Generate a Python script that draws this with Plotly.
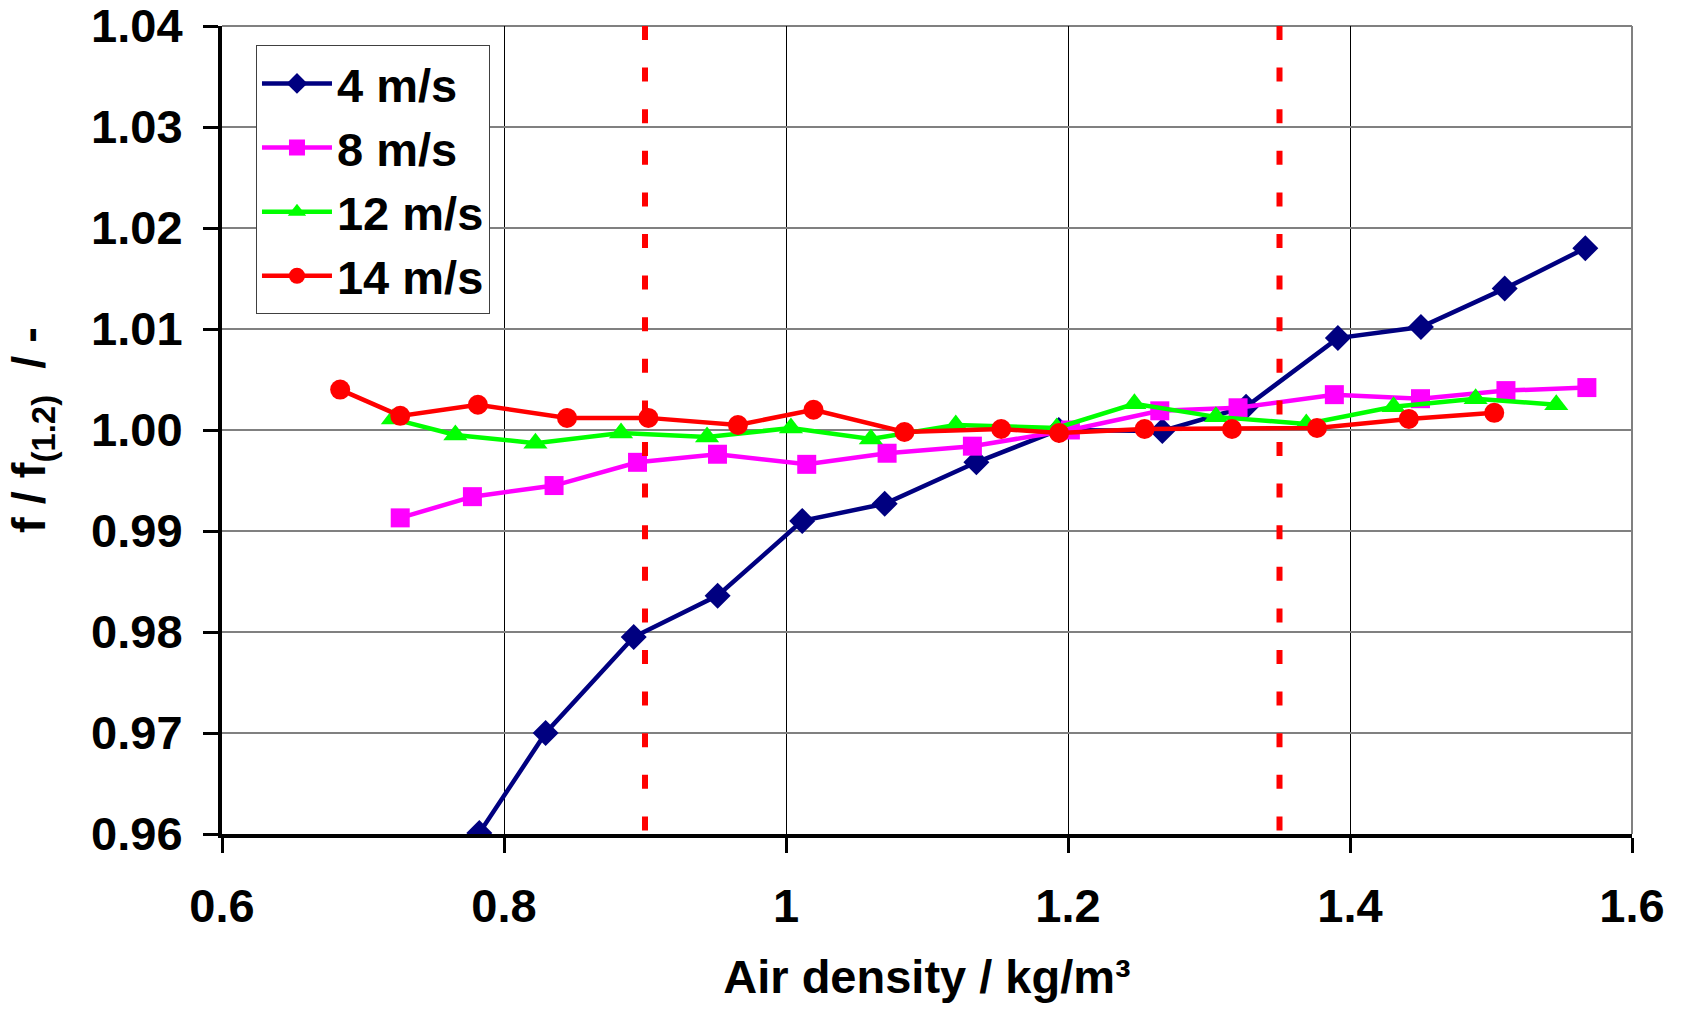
import plotly.graph_objects as go

# ---- data ----
x_4 = [0.7825, 0.8295, 0.892, 0.9515, 1.0115, 1.070, 1.1350, 1.1935, 1.2669, 1.3263, 1.3914, 1.4503, 1.5097, 1.5669]
y_4 = [0.9601, 0.9700, 0.9795, 0.9836, 0.9910, 0.9927, 0.9968, 1.0000, 0.9999, 1.0023, 1.0091, 1.0102, 1.0140, 1.0180]

x_8 = [0.7264, 0.7776, 0.8355, 0.8947, 0.9514, 1.0147, 1.0717, 1.1322, 1.2017, 1.2651, 1.3206, 1.3889, 1.4500, 1.5106, 1.5680]
y_8 = [0.9913, 0.9934, 0.9945, 0.9968, 0.9976, 0.9966, 0.9977, 0.9984, 1.0000, 1.0019, 1.0022, 1.0035, 1.0031, 1.0039, 1.0042]

x_12 = [0.7212, 0.7655, 0.8223, 0.8830, 0.9440, 1.0035, 1.0602, 1.1204, 1.1920, 1.2471, 1.3049, 1.3690, 1.4309, 1.4891, 1.5463]
y_12 = [1.0011, 0.9995, 0.9987, 0.9997, 0.9993, 1.0002, 0.9991, 1.0005, 1.0002, 1.0026, 1.0013, 1.0006, 1.0023, 1.0031, 1.0025]

x_14 = [0.6838, 0.7264, 0.7815, 0.8447, 0.9024, 0.9659, 1.0195, 1.0840, 1.1526, 1.1937, 1.2543, 1.3163, 1.3766, 1.4417, 1.5023]
y_14 = [1.0040, 1.0014, 1.0025, 1.0012, 1.0012, 1.0005, 1.0020, 0.9998, 1.0001, 0.9997, 1.0001, 1.0001, 1.0002, 1.0011, 1.0017]

series_names = ["4 m/s", "8 m/s", "12 m/s", "14 m/s"]
limit_lines = [0.9, 1.35]

x_ticks = [0.6, 0.8, 1.0, 1.2, 1.4, 1.6]
x_tick_text = ["0.6", "0.8", "1", "1.2", "1.4", "1.6"]
y_ticks = [0.96, 0.97, 0.98, 0.99, 1.00, 1.01, 1.02, 1.03, 1.04]
y_tick_text = ["0.96", "0.97", "0.98", "0.99", "1.00", "1.01", "1.02", "1.03", "1.04"]

FONT = "Liberation Sans, Arial, sans-serif"
FS = 47

fig = go.Figure()

styles = [
    dict(color="#000080", symbol="diamond", size=20),
    dict(color="#FF00FF", symbol="square", size=19),
    dict(color="#00FF00", symbol="triangle-up", size=21),
    dict(color="#FF0000", symbol="circle", size=20),
]
data = [(x_4, y_4), (x_8, y_8), (x_12, y_12), (x_14, y_14)]

for (xs, ys), name, st in zip(data, series_names, styles):
    fig.add_trace(go.Scatter(
        x=xs, y=ys, name=name, mode="lines+markers",
        line=dict(color=st["color"], width=4.5),
        marker=dict(color=st["color"], symbol=st["symbol"], size=st["size"], line=dict(width=0)),
    ))

for xv in limit_lines:
    fig.add_shape(type="line", xref="x", yref="paper", x0=xv, x1=xv, y0=1, y1=0,
                  line=dict(color="#FF0000", width=6, dash="14px,27.6px"), layer="above")

fig.update_layout(
    width=1681, height=1012,
    margin=dict(l=222, r=49, t=26, b=178),
    paper_bgcolor="white", plot_bgcolor="white",
    font=dict(family=FONT, size=FS, color="black", weight="bold"),
    showlegend=True,
    legend=dict(
        x=0.0241, y=0.976, xanchor="left", yanchor="top",
        bgcolor="white", bordercolor="#404040", borderwidth=1,
        font=dict(family=FONT, size=FS, color="black", weight="bold"),
        itemwidth=70, tracegroupgap=0,
    ),
    xaxis=dict(
        range=[0.6, 1.6], tickvals=x_ticks, ticktext=x_tick_text,
        showgrid=True, gridcolor="black", gridwidth=1,
        showline=True, linecolor="black", linewidth=4,
        ticks="outside", ticklen=15, tickwidth=3, tickcolor="black",
        ticklabelstandoff=13, automargin=False, ticklabeloverflow="allow",
        zeroline=False,
        title=dict(text="Air density / kg/m³", standoff=30,
                   font=dict(family=FONT, size=FS, color="black", weight="bold")),
    ),
    yaxis=dict(
        range=[0.96, 1.04], tickvals=y_ticks, ticktext=y_tick_text,
        showgrid=True, gridcolor="#808080", gridwidth=1.5,
        showline=True, linecolor="black", linewidth=4,
        ticks="outside", ticklen=15, tickwidth=3, tickcolor="black",
        ticklabelstandoff=11, automargin=False, ticklabeloverflow="allow",
        zeroline=False,
        title=dict(text="f / f<sub>(1.2)</sub>\u00a0\u00a0/ -", standoff=32,
                   font=dict(family=FONT, size=FS, color="black", weight="bold")),
    ),
)

# plot-area border on top and right (thin gray)
fig.add_shape(type="line", xref="paper", yref="paper", x0=0, x1=1, y0=1, y1=1,
              line=dict(color="#808080", width=2), layer="below")
fig.add_shape(type="line", xref="paper", yref="paper", x0=1, x1=1, y0=0, y1=1,
              line=dict(color="#808080", width=2), layer="below")

fig.write_html("out.html")
